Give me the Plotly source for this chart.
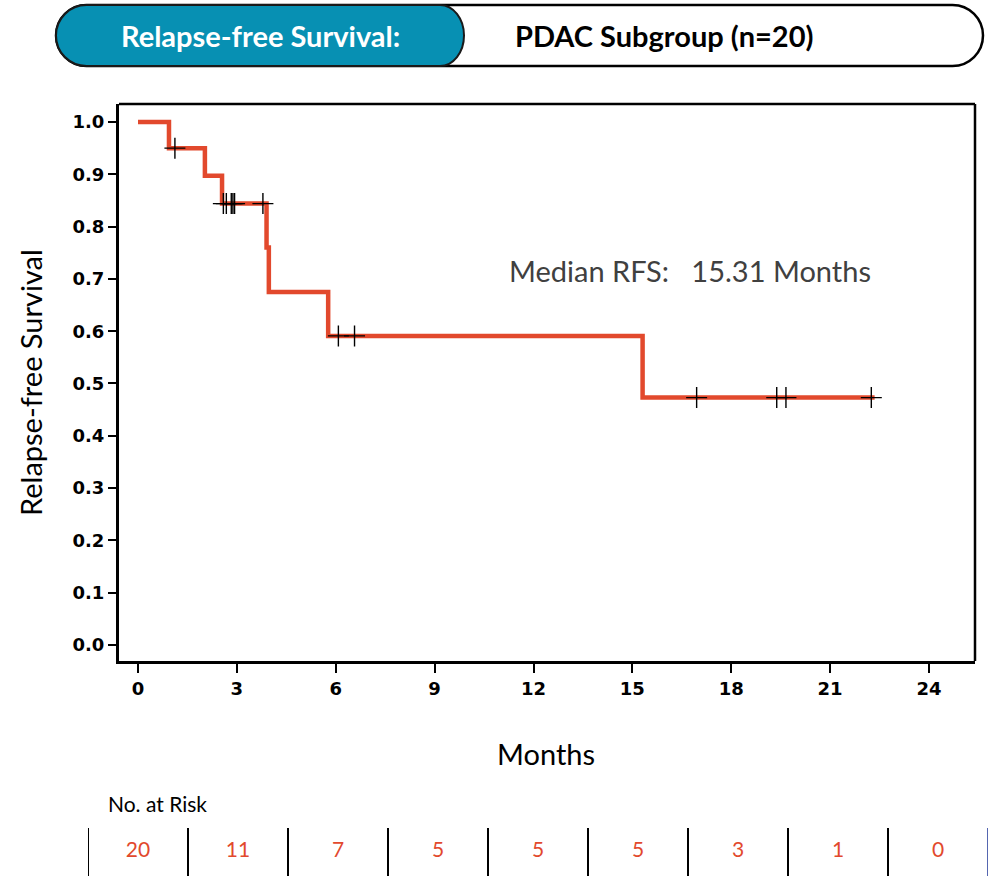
import plotly.graph_objects as go

# ---------------- data ----------------
step_times = [0, 0.94, 2.03, 2.55, 3.90, 3.97, 5.77, 15.31, 22.35]
step_surv = [1.0, 0.95, 0.897, 0.844, 0.760, 0.675, 0.591, 0.473, 0.473]

censor_times = [1.12, 2.59, 2.68, 2.83, 2.88, 2.93, 3.79, 6.08, 6.57, 16.95, 19.38, 19.66, 22.25]
censor_surv = [0.95, 0.844, 0.844, 0.844, 0.844, 0.844, 0.844, 0.591, 0.591, 0.473, 0.473, 0.473, 0.473]

x_ticks = [0, 3, 6, 9, 12, 15, 18, 21, 24]
y_ticks = [0.0, 0.1, 0.2, 0.3, 0.4, 0.5, 0.6, 0.7, 0.8, 0.9, 1.0]

risk_times = [0, 3, 6, 9, 12, 15, 18, 21, 24]
risk_counts = [20, 11, 7, 5, 5, 5, 3, 1, 0]

header_left = "Relapse-free Survival:"
header_right = "PDAC Subgroup (n=20)"
median_text = "Median RFS:\u00a0\u00a0\u00a015.31 Months"

# ---------------- styling ----------------
W, H = 995, 876
RED = "#E2492D"
TEAL = "#0790B3"
TXT_FONT = "Lato"
TICK_FONT = "DejaVu Sans"


def px_x(v):
    return v / W


def px_y(v):
    return 1 - v / H


fig = go.Figure()

fig.add_trace(go.Scatter(
    x=step_times, y=step_surv, mode="lines", line=dict(color=RED, width=4.5, shape="hv"),
    showlegend=False, hoverinfo="skip"))

fig.add_trace(go.Scatter(
    x=censor_times, y=censor_surv, mode="markers",
    marker=dict(symbol="cross-thin", size=15, line=dict(color="black", width=1.4)),
    showlegend=False, hoverinfo="skip"))

# risk table numbers on their own axes
fig.add_trace(go.Scatter(
    x=risk_times, y=[0.5] * len(risk_times), mode="text",
    text=[str(c) for c in risk_counts],
    textfont=dict(family=TXT_FONT, size=21, color=RED),
    xaxis="x2", yaxis="y2", showlegend=False, hoverinfo="skip"))

fig.update_layout(
    width=W, height=H,
    margin=dict(l=0, r=0, t=0, b=0),
    paper_bgcolor="white", plot_bgcolor="white",
    xaxis=dict(
        domain=[px_x(119), px_x(975)], range=[-0.5765, 25.396],
        tickvals=x_ticks, ticktext=[str(t) for t in x_ticks],
        ticks="outside", ticklen=9, tickwidth=1.5, tickcolor="black",
        tickfont=dict(family=TICK_FONT, size=18, color="black", weight="bold"),
        showline=True, linewidth=3, linecolor="black",
        showgrid=False, zeroline=False, anchor="y",
    ),
    yaxis=dict(
        domain=[px_y(661), px_y(104)], range=[-0.0306, 1.0344],
        tickvals=y_ticks, ticktext=["%.1f" % t for t in y_ticks],
        ticks="outside", ticklen=8, tickwidth=1.5, tickcolor="black",
        tickfont=dict(family=TICK_FONT, size=18, color="black", weight="bold"),
        showline=True, linewidth=3, linecolor="black",
        showgrid=False, zeroline=False, anchor="x",
    ),
    xaxis2=dict(domain=[px_x(88), px_x(988)], range=[-1.5, 25.5], visible=False,
                anchor="y2", showgrid=False, zeroline=False),
    yaxis2=dict(domain=[0, px_y(828)], range=[0, 1], visible=False,
                anchor="x2", showgrid=False, zeroline=False),
)


def pill_path(x0, x1, rl, rr, h):
    k = 0.5523
    hh = h / 2
    return (f"M {x0 + rl},{hh} L {x1 - rr},{hh} "
            f"C {x1 - rr + k * rr},{hh} {x1},{k * hh} {x1},0 "
            f"C {x1},{-k * hh} {x1 - rr + k * rr},{-hh} {x1 - rr},{-hh} "
            f"L {x0 + rl},{-hh} "
            f"C {x0 + rl - k * rl},{-hh} {x0},{-k * hh} {x0},0 "
            f"C {x0},{k * hh} {x0 + rl - k * rl},{hh} {x0 + rl},{hh} Z")


shapes = []
# header pill
hy = px_y(35.5)
shapes.append(dict(type="path", xref="paper", yref="paper", xsizemode="pixel", ysizemode="pixel",
                   xanchor=0, yanchor=hy, path=pill_path(56, 983, 30.5, 30.5, 61),
                   fillcolor="white", line=dict(color="black", width=2.5)))
shapes.append(dict(type="path", xref="paper", yref="paper", xsizemode="pixel", ysizemode="pixel",
                   xanchor=0, yanchor=hy, path=pill_path(56, 464, 30.5, 24, 61),
                   fillcolor=TEAL, line=dict(color="#1a1a1a", width=2)))
# top and right border of plot box
shapes.append(dict(type="line", xref="x domain", yref="y domain", x0=0, x1=1, y0=1, y1=1,
                   line=dict(color="black", width=2.5)))
shapes.append(dict(type="line", xref="x domain", yref="y domain", x0=1, x1=1, y0=0, y1=1,
                   line=dict(color="black", width=2.5)))
# risk table separators (between the time points)
for i, t in enumerate(risk_times + [risk_times[-1] + 3]):
    shapes.append(dict(type="line", xref="x2", yref="y2", x0=t - 1.5, x1=t - 1.5, y0=0, y1=1,
                       line=dict(color="#5566B0" if i == len(risk_times) else "black", width=2)))


def ann(x, y, text, size, color="black", weight="normal", xanchor="center", angle=0):
    return dict(x=px_x(x), y=px_y(y), xref="paper", yref="paper", text=text, showarrow=False,
                xanchor=xanchor, yanchor="middle", textangle=angle,
                font=dict(family=TXT_FONT, size=size, color=color, weight=weight))


annotations = [
    ann(260, 36, header_left, 29, "white", "bold"),
    ann(664, 36, header_right, 29, "black", "bold"),
    ann(690, 271, median_text, 29, "#404040"),
    ann(31, 383, "Relapse-free Survival", 29, angle=-90),
    ann(546, 753, "Months", 29),
    ann(106, 803, "No. at Risk", 21, xanchor="left"),
]

fig.update_layout(shapes=shapes, annotations=annotations)
fig.write_html("out.html")
